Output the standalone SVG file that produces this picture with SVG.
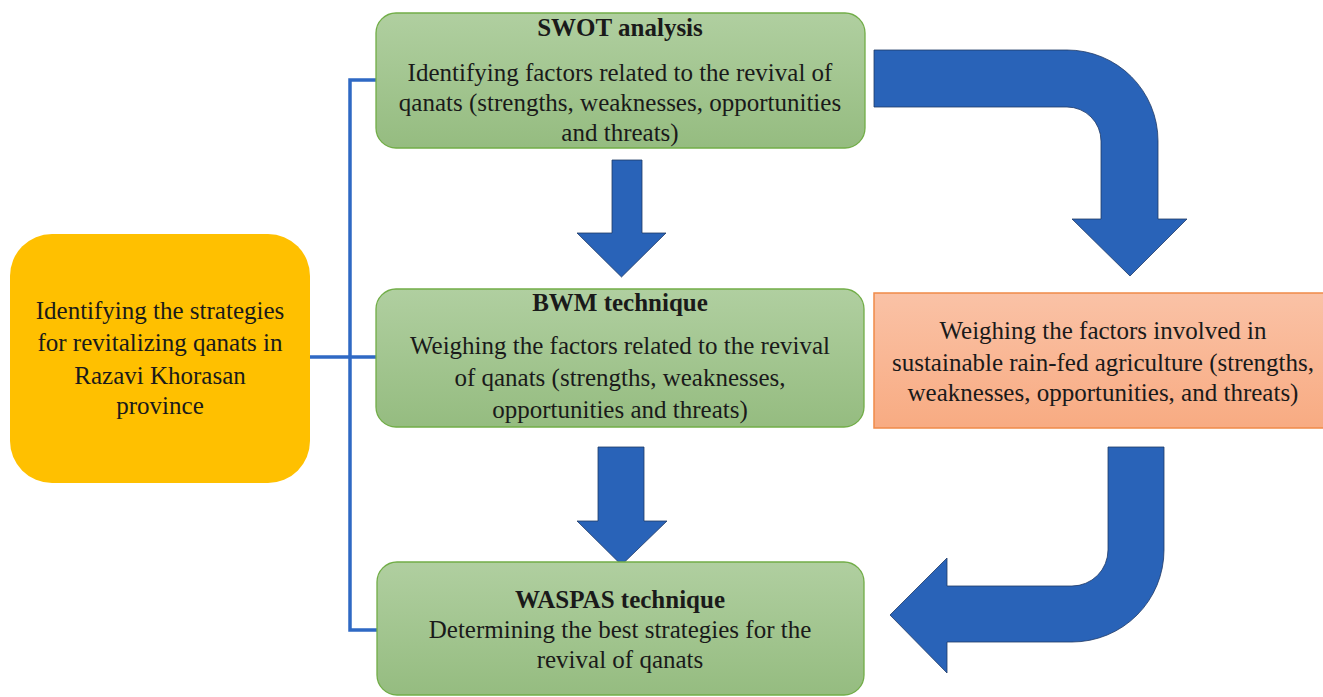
<svg xmlns="http://www.w3.org/2000/svg" width="1323" height="697" viewBox="0 0 1323 697">
<defs>
<linearGradient id="gGreen" x1="0" y1="0" x2="0" y2="1">
<stop offset="0" stop-color="#B0CFA0"/>
<stop offset="1" stop-color="#95BC80"/>
</linearGradient>
<linearGradient id="gOrange" x1="0" y1="0" x2="0" y2="1">
<stop offset="0" stop-color="#FAC2A6"/>
<stop offset="1" stop-color="#F8AB82"/>
</linearGradient>
<style>
.green{fill:url(#gGreen);stroke:#71AD47;stroke-width:1.3}
.t{font-family:'Liberation Serif','Times New Roman',serif;font-size:25px;fill:#1a1a1a;text-anchor:middle}
.b{font-weight:bold}
.arr{fill:#2963B8;stroke:#1F3A66;stroke-width:0.8}
.line{fill:none;stroke:#2F69C4;stroke-width:3.5}
</style>
</defs>
<g id="connectors">
<path class="line" d="M376 80 H350 V630 H377"/>
<path class="line" d="M310 357 H376"/>
<path class="arr" d="M612 160 H642 V233 H666 L621.5 277 L577 233 H612 Z"/>
<path class="arr" d="M598 447 H644 V521 H667 L621.5 565 L577 521 H598 Z"/>
<path class="arr" d="M874 50 H1067 A91 91 0 0 1 1158 141 V219 H1187 L1130 276 L1072 219 H1101 V141 A34 34 0 0 0 1067 107 H874 Z"/>
<path class="arr" d="M1108 447 H1164 V550 A92 92 0 0 1 1072 642 H947 V673 L890 615 L947 558 V586 H1072 A36 36 0 0 0 1108 550 Z"/>
</g>
<g id="node-goal">
<rect x="10" y="234" width="300" height="249" rx="42" fill="#FFC000"/>
<text class="t" x="160" y="319">Identifying the strategies</text>
<text class="t" x="160" y="351">for revitalizing qanats in</text>
<text class="t" x="160" y="384">Razavi Khorasan</text>
<text class="t" x="160" y="414">province</text>
</g>
<g id="node-swot">
<rect class="green" x="376" y="13" width="489" height="135" rx="20"/>
<text class="t b" x="620" y="36">SWOT analysis</text>
<text class="t" x="620" y="81">Identifying factors related to the revival of</text>
<text class="t" x="620" y="111">qanats (strengths, weaknesses, opportunities</text>
<text class="t" x="620" y="141">and threats)</text>
</g>
<g id="node-bwm">
<rect class="green" x="376" y="289" width="488" height="138" rx="20"/>
<text class="t b" x="620" y="311">BWM technique</text>
<text class="t" x="620" y="354">Weighing the factors related to the revival</text>
<text class="t" x="620" y="386">of qanats (strengths, weaknesses,</text>
<text class="t" x="620" y="418">opportunities and threats)</text>
</g>
<g id="node-waspas">
<rect class="green" x="377" y="562" width="487" height="133" rx="20"/>
<text class="t b" x="620" y="608">WASPAS technique</text>
<text class="t" x="620" y="638">Determining the best strategies for the</text>
<text class="t" x="620" y="668">revival of qanats</text>
</g>
<g id="node-rainfed">
<rect x="874" y="293" width="452" height="135" fill="url(#gOrange)" stroke="#F08A48" stroke-width="1.5"/>
<text class="t" x="1103" y="339">Weighing the factors involved in</text>
<text class="t" x="1103" y="371">sustainable rain-fed agriculture (strengths,</text>
<text class="t" x="1103" y="401">weaknesses, opportunities, and threats)</text>
</g>
</svg>
